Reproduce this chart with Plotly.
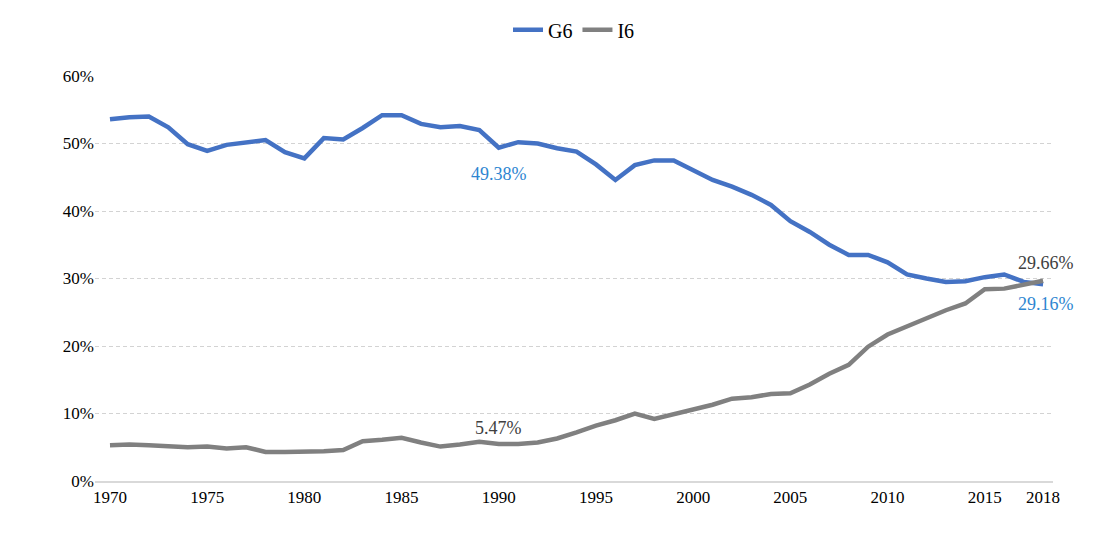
import plotly.graph_objects as go

# Data
years = list(range(1970, 2019))

g6 = [53.6, 53.9, 54.0, 52.4, 49.9, 48.9, 49.8, 50.2, 50.5, 48.7,
      47.8, 50.8, 50.6, 52.3, 54.2, 54.2, 52.9, 52.4, 52.6, 52.0,
      49.38, 50.2, 50.0, 49.3, 48.8, 46.9, 44.6, 46.8, 47.5, 47.5,
      46.1, 44.6, 43.6, 42.4, 40.9, 38.5, 36.9, 35.0, 33.5, 33.5,
      32.4, 30.6, 30.0, 29.5, 29.6, 30.2, 30.6, 29.5, 29.16]

i6 = [5.3, 5.4, 5.3, 5.2, 5.0, 5.1, 4.8, 5.0, 4.3, 4.3,
      4.3, 4.4, 4.6, 5.9, 6.1, 6.4, 5.7, 5.1, 5.4, 5.8,
      5.47, 5.5, 5.7, 6.3, 7.2, 8.2, 9.0, 10.0, 9.2, 9.9,
      10.5, 11.3, 12.2, 12.4, 12.9, 13.0, 14.3, 15.9, 17.2, 19.9,
      21.7, 22.9, 24.2, 25.3, 26.3, 28.4, 28.5, 29.1, 29.66]

x_ticks = [1970, 1975, 1980, 1985, 1990, 1995, 2000, 2005, 2010, 2015, 2018]
y_ticks = [0, 10, 20, 30, 40, 50, 60]

font = 'Liberation Serif'
blue = '#4472C4'
grey = '#808080'

fig = go.Figure()
fig.add_trace(go.Scatter(x=years, y=[v / 100 for v in g6], name='G6',
                         mode='lines', line=dict(color=blue, width=4.5)))
fig.add_trace(go.Scatter(x=years, y=[v / 100 for v in i6], name='I6',
                         mode='lines', line=dict(color=grey, width=4.5)))

# value labels
labels = [
    (1990, g6[20], '49.38%', '#2E86D1', -26),
    (1990, i6[20], '5.47%', '#404040', 16),
    (2018, i6[-1], '29.66%', '#404040', 18),
    (2018, g6[-1], '29.16%', '#2E86D1', -20),
]
for yr, val, txt, col, dy in labels:
    fig.add_annotation(x=yr, y=val / 100, text=txt, showarrow=False,
                       yshift=dy, xshift=0 if yr != 2018 else 3,
                       font=dict(family=font, size=18, color=col))

fig.update_layout(
    width=1113, height=544,
    paper_bgcolor='white', plot_bgcolor='white',
    font=dict(family=font, size=17, color='black'),
    margin=dict(l=87, r=68, t=68, b=71),
    legend=dict(orientation='h', x=0.5, xanchor='center', y=0.96,
                yanchor='middle', yref='container',
                font=dict(family=font, size=20)),
    xaxis=dict(range=[1969.23, 2018.51], tickvals=x_ticks,
               showgrid=False, zeroline=False, showline=True,
               linecolor='#D9D9D9', linewidth=1.5, ticks='',
               tickfont=dict(family=font, size=17)),
    yaxis=dict(range=[0, 0.6], tickvals=[v / 100 for v in y_ticks],
               ticktext=[f'{v}%' for v in y_ticks],
               showgrid=True, gridcolor='#D3D3D3', griddash='4px,3px',
               gridwidth=1.3, zeroline=False, showline=False,
               ticks='', tickfont=dict(family=font, size=17)),
)

fig.write_html("out.html")
